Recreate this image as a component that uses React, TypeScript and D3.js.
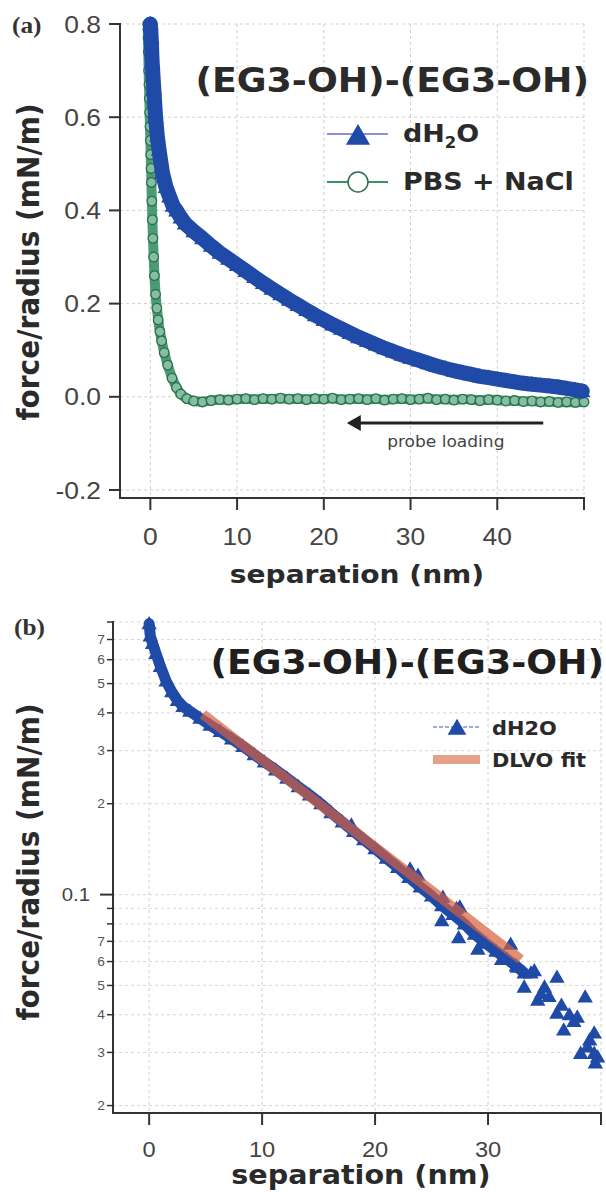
import React from "react";
import * as d3 from "d3";

// ---------- data: panel (a) ----------
const sepA_dH2O = [0, 0.1, 0.2, 0.4, 0.6, 0.8, 1.0, 1.4, 1.8, 2.2, 2.6, 3.0, 3.5, 4, 5, 6, 7, 8, 9, 10, 11, 12, 13, 14, 15, 16, 17, 18, 19, 20, 21, 22, 23, 24, 25, 26, 27, 28, 29, 30, 31, 32, 33, 34, 35, 36, 37, 38, 39, 40, 41, 42, 43, 44, 45, 46, 47, 48, 49, 49.8];
const forceA_dH2O = [0.8, 0.77, 0.72, 0.66, 0.6, 0.56, 0.53, 0.48, 0.45, 0.43, 0.41, 0.4, 0.385, 0.372, 0.355, 0.34, 0.324, 0.309, 0.296, 0.283, 0.27, 0.257, 0.244, 0.232, 0.22, 0.208, 0.197, 0.186, 0.175, 0.165, 0.155, 0.146, 0.137, 0.128, 0.12, 0.112, 0.104, 0.097, 0.09, 0.084, 0.078, 0.072, 0.066, 0.061, 0.056, 0.052, 0.048, 0.044, 0.041, 0.038, 0.035, 0.032, 0.029, 0.027, 0.025, 0.023, 0.021, 0.018, 0.015, 0.012];

const sepA_PBS = [-0.3, -0.27, -0.24, -0.2, -0.16, -0.12, -0.08, -0.04, 0.0, 0.04, 0.08, 0.12, 0.17, 0.23, 0.3, 0.38, 0.47, 0.6, 0.75, 0.9, 1.1, 1.3, 1.6, 2.0, 2.5, 3.0, 3.5, 4.2, 5, 6, 7, 8, 9, 10, 11, 12, 13, 14, 15, 16, 17, 18, 19, 20, 21, 22, 23, 24, 25, 26, 27, 28, 29, 30, 31, 32, 33, 34, 35, 36, 37, 38, 39, 40, 41, 42, 43, 44, 45, 46, 47, 48, 49, 50];
const forceA_PBS = [0.8, 0.77, 0.74, 0.7, 0.67, 0.64, 0.61, 0.58, 0.55, 0.52, 0.49, 0.46, 0.42, 0.38, 0.34, 0.3, 0.26, 0.22, 0.19, 0.165, 0.14, 0.12, 0.095, 0.068, 0.04, 0.02, 0.006, -0.004, -0.009, -0.011, -0.008, -0.006, -0.007, -0.005, -0.004, -0.006, -0.004, -0.005, -0.003, -0.005, -0.004, -0.006, -0.004, -0.005, -0.003, -0.006, -0.005, -0.004, -0.006, -0.004, -0.007, -0.005, -0.004, -0.006, -0.005, -0.003, -0.006, -0.005, -0.007, -0.005, -0.006, -0.008, -0.006, -0.007, -0.009, -0.008, -0.01, -0.009, -0.011, -0.01, -0.012, -0.011, -0.012, -0.011];

const xTicksA = [0, 10, 20, 30, 40, 50];
const xLabelsA = ["0", "10", "20", "30", "40", ""];
const yTicksA = [-0.2, 0, 0.2, 0.4, 0.6, 0.8];

// ---------- data: panel (b) ----------
const sepB_dH2O = [0, 0.1, 0.3, 0.6, 1.0, 1.5, 2.0, 2.5, 3.0, 3.6, 4.5, 5.4, 6.3, 7.3, 8.3, 9.3, 10.2, 11.2, 12.2, 13.2, 14.2, 15.2, 16.1, 17.1, 18.1, 19.0, 20.0, 21.0, 22.0, 23.0, 24.0, 25.0, 25.9, 26.9, 27.9, 28.8, 29.8, 30.7, 31.7, 32.5, 33.2];
const forceB_dH2O = [0.79, 0.72, 0.68, 0.63, 0.57, 0.51, 0.47, 0.44, 0.42, 0.405, 0.384, 0.364, 0.347, 0.328, 0.31, 0.291, 0.275, 0.259, 0.243, 0.228, 0.214, 0.2, 0.187, 0.174, 0.162, 0.152, 0.142, 0.132, 0.123, 0.114, 0.106, 0.099, 0.092, 0.086, 0.08, 0.074, 0.069, 0.065, 0.061, 0.058, 0.055];
// scattered points off the main trend
const sepB_scatter = [17.9, 23.1, 23.8, 25.9, 26.0, 27.2, 27.4, 27.5, 29.1, 31.2, 32.0, 32.6, 33.2, 33.8, 34.1, 34.4, 34.7, 35.0, 35.4, 36.1, 36.1, 36.5, 36.7, 37.2, 37.6, 37.9, 38.2, 38.6, 38.8, 39.0, 39.4, 39.4, 39.5, 39.7];
const forceB_scatter = [0.17, 0.1215, 0.116, 0.082, 0.098, 0.09, 0.072, 0.091, 0.066, 0.061, 0.0685, 0.0575, 0.0494, 0.055, 0.056, 0.0447, 0.047, 0.0494, 0.046, 0.0405, 0.0533, 0.043, 0.0356, 0.04, 0.038, 0.0393, 0.0298, 0.0458, 0.0313, 0.033, 0.0348, 0.0298, 0.0277, 0.029];

const fitSep = [4.75, 32.9];
const fitForce = [0.396, 0.061];

const xTicksB = [0, 10, 20, 30, 40];
const xLabelsB = ["0", "10", "20", "30", ""];
const yMajorB = [0.1];
const yMinorB = [0.02, 0.03, 0.04, 0.05, 0.06, 0.07, 0.08, 0.09, 0.2, 0.3, 0.4, 0.5, 0.6, 0.7, 0.8];
const yMinorLabelsB = ["2", "3", "4", "5", "6", "7", "", "", "2", "3", "4", "5", "6", "7", ""];

// ---------- styling ----------
const SX = 1.1;
const BLUE = "#1f4aa8";
const GREEN = "#3a9066";
const GREEN_DARK = "#24704a";
const AXIS = "#333";
const TICKTXT = "#444";
const GRID = "#cfcfcf";
const SANS = "'Liberation Sans', Arial, sans-serif";
const VERD = "'DejaVu Sans', Verdana, sans-serif";
const SERIF = "'Liberation Serif', 'Times New Roman', serif";

type TP = {
  x: number; y: number; size: number; anchor?: string; weight?: string | number;
  family?: string; fill?: string; rotate?: number; children?: React.ReactNode; sx?: number;
};
function T({ x, y, size, anchor = "start", weight = "normal", family = SANS, fill = "#222", rotate = 0, children, sx = SX }: TP) {
  return (
    <text
      transform={`translate(${x},${y}) scale(${sx},1)${rotate ? ` rotate(${rotate})` : ""}`}
      textAnchor={anchor as any}
      fontSize={size}
      fontWeight={weight as any}
      fontFamily={family}
      fill={fill}
    >
      {children}
    </text>
  );
}

const tri = (s: number) => `M0,${-s * 0.55} L${s * 0.55},${s * 0.4} L${-s * 0.55},${s * 0.4} Z`;

function PanelA() {
  const x = d3.scaleLinear().domain([-3.5, 50]).range([120, 584]);
  const y = d3.scaleLinear().domain([-0.2, 0.8]).range([490, 24]);
  const yBottom = 498;
  const line = d3.line<[number, number]>().x((d) => x(d[0])).y((d) => y(d[1])).curve(d3.curveLinear);
  const blue: [number, number][] = sepA_dH2O.map((s, i) => [s, forceA_dH2O[i]]);
  const green: [number, number][] = sepA_PBS.map((s, i) => [s, forceA_PBS[i]]);

  return (
    <g>
      {/* grid */}
      {yTicksA.map((t) => (
        <line key={"gy" + t} x1={120} x2={584} y1={y(t)} y2={y(t)} stroke={GRID} strokeDasharray="3,3" strokeWidth={1} />
      ))}
      {xTicksA.map((t) => (
        <line key={"gx" + t} x1={x(t)} x2={x(t)} y1={24} y2={yBottom} stroke={GRID} strokeDasharray="3,3" strokeWidth={1} />
      ))}

      {/* PBS + NaCl */}
      <path d={line(green) || ""} fill="none" stroke={GREEN} strokeWidth={10} strokeLinejoin="round" strokeLinecap="round" opacity={0.9} />
      {green.map((d, i) => (
        <circle key={"g" + i} cx={x(d[0])} cy={y(d[1])} r={4.8} fill="#9fcdb4" fillOpacity={0.7} stroke={GREEN_DARK} strokeWidth={1.3} />
      ))}

      {/* dH2O */}
      <path d={line(blue) || ""} fill="none" stroke={BLUE} strokeWidth={15} strokeLinejoin="round" strokeLinecap="round" />
      {blue.map((d, i) => (
        <path key={"b" + i} d={tri(15)} transform={`translate(${x(d[0])},${y(d[1])})`} fill={BLUE} />
      ))}

      {/* axes */}
      <line x1={120} x2={120} y1={23} y2={yBottom} stroke={AXIS} strokeWidth={2} />
      <line x1={119} x2={585} y1={yBottom} y2={yBottom} stroke={AXIS} strokeWidth={2} />
      {yTicksA.map((t) => (
        <g key={"ty" + t}>
          <line x1={109} x2={120} y1={y(t)} y2={y(t)} stroke={AXIS} strokeWidth={2} />
          <T x={101} y={y(t) + 8.5} size={24} anchor="end" fill={TICKTXT}>{d3.format(".1f")(t).replace("−", "-")}</T>
        </g>
      ))}
      {xTicksA.map((t, i) => (
        <g key={"tx" + t}>
          <line x1={x(t)} x2={x(t)} y1={yBottom} y2={yBottom + 12} stroke={AXIS} strokeWidth={2} />
          <T x={x(t)} y={545} size={24} anchor="middle" fill={TICKTXT}>{xLabelsA[i]}</T>
        </g>
      ))}

      {/* axis titles */}
      <T x={39} y={262} size={28} weight="bold" family={VERD} anchor="middle" rotate={-90} fill="#2a2a2a">force/radius (mN/m)</T>
      <T x={357} y={583} size={25.5} weight="bold" family={VERD} anchor="middle" fill="#2a2a2a">separation (nm)</T>

      {/* panel title */}
      <T x={589} y={92} size={33} weight="bold" family={VERD} anchor="end" fill="#2a2a2a">(EG3-OH)-(EG3-OH)</T>

      {/* legend */}
      <line x1={327} x2={388} y1={134} y2={134} stroke="#8f8fd8" strokeWidth={2} />
      <path d={tri(22)} transform="translate(358,136)" fill={BLUE} />
      <T x={403} y={142} size={24.5} weight="bold" family={VERD} fill="#2a2a2a">
        dH<tspan fontSize={15} dy={6}>2</tspan><tspan dy={-6}>O</tspan>
      </T>
      <line x1={327} x2={388} y1={182} y2={182} stroke={GREEN} strokeWidth={2} />
      <circle cx={358} cy={182} r={10} fill="#fff" stroke={GREEN_DARK} strokeWidth={1.5} />
      <T x={403} y={190} size={24.5} weight="bold" family={VERD} fill="#2a2a2a">PBS + NaCl</T>

      {/* probe loading arrow */}
      <line x1={x(45.3)} x2={x(22.65) + 10} y1={y(-0.056)} y2={y(-0.056)} stroke="#222" strokeWidth={3} />
      <path d={`M${x(22.65)},${y(-0.056)} L${x(22.65) + 14},${y(-0.056) - 8} L${x(22.65) + 14},${y(-0.056) + 8} Z`} fill="#222" />
      <T x={x(27.3)} y={447} size={15.5} family={VERD} fill="#444">probe loading</T>

      {/* panel letter */}
      <T x={12} y={33} size={23} weight="bold" family={SERIF} fill="#333">(a)</T>
    </g>
  );
}

function PanelB() {
  const x = d3.scaleLinear().domain([-3.2, 40]).range([113, 601]);
  const y = d3.scaleLog().domain([0.0189, 0.8]).range([1113, 622]);
  const line = d3.line<[number, number]>().x((d) => x(d[0])).y((d) => y(d[1]));
  const blue: [number, number][] = sepB_dH2O.map((s, i) => [s, forceB_dH2O[i]]);
  const scatter: [number, number][] = sepB_scatter.map((s, i) => [s, forceB_scatter[i]]);
  const fit: [number, number][] = fitSep.map((s, i) => [s, fitForce[i]]);
  const allY = [...yMajorB, ...yMinorB];

  return (
    <g>
      {allY.map((t) => (
        <line key={"gy" + t} x1={113} x2={601} y1={y(t)} y2={y(t)} stroke={GRID} strokeDasharray="3,3" strokeWidth={1} opacity={0.8} />
      ))}
      {xTicksB.map((t) => (
        <line key={"gx" + t} x1={x(t)} x2={x(t)} y1={622} y2={1113} stroke={GRID} strokeDasharray="3,3" strokeWidth={1} />
      ))}

      {/* dH2O */}
      <path d={line(blue) || ""} fill="none" stroke={BLUE} strokeWidth={11} strokeLinejoin="round" strokeLinecap="round" />
      {blue.map((d, i) => (
        <path key={"b" + i} d={tri(14)} transform={`translate(${x(d[0])},${y(d[1])})`} fill={BLUE} />
      ))}
      {scatter.map((d, i) => (
        <path key={"s" + i} d={tri(14)} transform={`translate(${x(d[0])},${y(d[1])})`} fill={BLUE} />
      ))}

      {/* DLVO fit */}
      <path d={line(fit) || ""} fill="none" stroke="#d6603f" strokeWidth={10} opacity={0.7} strokeLinecap="butt" />

      {/* axes */}
      <line x1={113} x2={113} y1={621} y2={1113} stroke={AXIS} strokeWidth={2} />
      <line x1={112} x2={602} y1={1113} y2={1113} stroke={AXIS} strokeWidth={2} />
      {yMajorB.map((t) => (
        <g key={"my" + t}>
          <line x1={100} x2={113} y1={y(t)} y2={y(t)} stroke={AXIS} strokeWidth={2} />
          <T x={90} y={y(t) + 6.5} size={18.5} anchor="end" fill={TICKTXT}>{String(t)}</T>
        </g>
      ))}
      {yMinorB.map((t, i) => (
        <g key={"ny" + t}>
          <line x1={107} x2={113} y1={y(t)} y2={y(t)} stroke={AXIS} strokeWidth={1.5} />
          <T x={105} y={y(t) + 4.5} size={12.5} anchor="end" fill="#555">{yMinorLabelsB[i]}</T>
        </g>
      ))}
      {xTicksB.map((t, i) => (
        <g key={"tx" + t}>
          <line x1={x(t)} x2={x(t)} y1={1113} y2={1125} stroke={AXIS} strokeWidth={2} />
          <T x={x(t)} y={1157} size={21.5} anchor="middle" fill={TICKTXT}>{xLabelsB[i]}</T>
        </g>
      ))}

      <T x={39} y={862} size={28} weight="bold" family={VERD} anchor="middle" rotate={-90} fill="#2a2a2a">force/radius (mN/m)</T>
      <T x={361} y={1184} size={26} weight="bold" family={VERD} anchor="middle" fill="#2a2a2a">separation (nm)</T>

      <T x={604} y={674} size={33} weight="bold" family={VERD} anchor="end" fill="#1f1f1f">(EG3-OH)-(EG3-OH)</T>

      {/* legend */}
      <line x1={433} x2={480} y1={727} y2={727} stroke="#7f8fd0" strokeWidth={1.5} strokeDasharray="4,2" />
      <path d={tri(17)} transform="translate(457,728)" fill={BLUE} />
      <T x={492} y={735} size={19} weight="bold" family={VERD} fill="#2a2a2a">dH2O</T>
      <rect x={433} y={755} width={47} height={9} fill="#e08a6c" opacity={0.8} />
      <T x={492} y={767} size={19} weight="bold" family={VERD} fill="#2a2a2a">DLVO fit</T>

      <T x={14} y={635} size={23} weight="bold" family={SERIF} fill="#333">(b)</T>
    </g>
  );
}

export default function App() {
  return (
    <svg width={606} height={1192} viewBox="0 0 606 1192" style={{ position: "absolute", left: 0, top: 0, background: "#fff" }}>
      <rect x={0} y={0} width={606} height={1192} fill="#fff" />
      <PanelA />
      <PanelB />
    </svg>
  );
}
